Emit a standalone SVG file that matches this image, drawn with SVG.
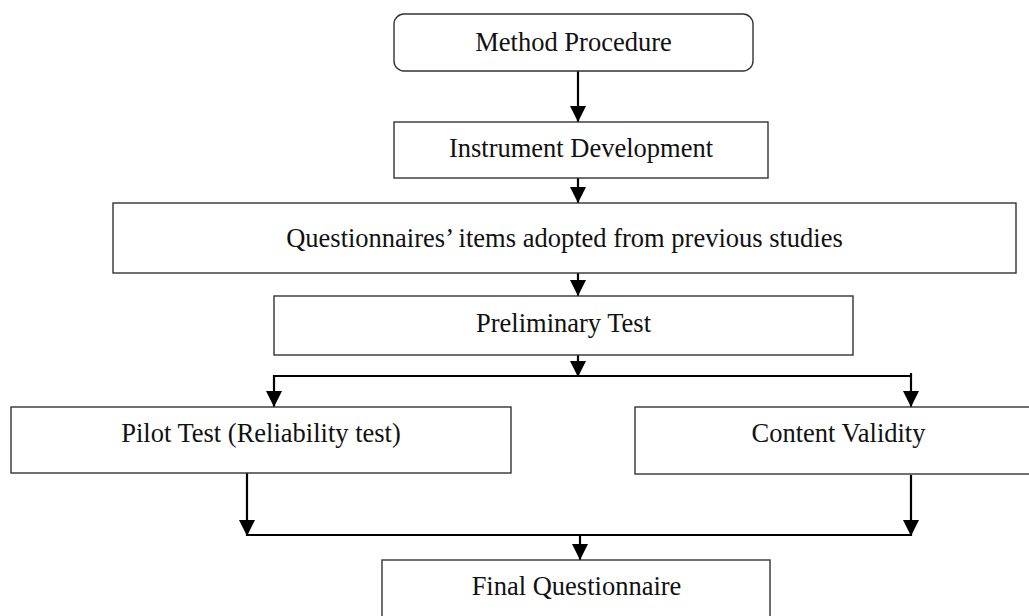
<svg xmlns="http://www.w3.org/2000/svg" width="1029" height="616" viewBox="0 0 1029 616">
<style>
.box{fill:#fff;stroke:#333;stroke-width:1.4}
.lbl{font-family:"Liberation Serif","Times New Roman",serif;font-size:26.5px;fill:#111;text-anchor:middle}
.ln{fill:none;stroke:#000;stroke-width:2.2}
</style>
<defs>
<marker id="ah" viewBox="0 0 16 16" markerWidth="16" markerHeight="16" refX="16" refY="8" orient="auto" markerUnits="userSpaceOnUse">
<path d="M0,0 L16,8 L0,16 Z" fill="#000"/>
</marker>
</defs>
<rect width="1029" height="616" fill="#fff"/>
<g id="connectors">
<line class="ln" x1="578" y1="71" x2="578" y2="122" marker-end="url(#ah)"/>
<line class="ln" x1="578" y1="178" x2="578" y2="203" marker-end="url(#ah)"/>
<line class="ln" x1="578" y1="273" x2="578" y2="296" marker-end="url(#ah)"/>
<line class="ln" x1="578" y1="355" x2="578" y2="377" marker-end="url(#ah)"/>
<line class="ln" x1="273" y1="376" x2="912" y2="376"/>
<line class="ln" x1="274" y1="375" x2="274" y2="407" marker-end="url(#ah)"/>
<line class="ln" x1="911" y1="373" x2="911" y2="407" marker-end="url(#ah)"/>
<line class="ln" x1="247" y1="473" x2="247" y2="536" marker-end="url(#ah)"/>
<line class="ln" x1="911" y1="475" x2="911" y2="536" marker-end="url(#ah)"/>
<line class="ln" x1="246" y1="535" x2="912" y2="535"/>
<line class="ln" x1="580" y1="535" x2="580" y2="560" marker-end="url(#ah)"/>
</g>
<g id="method-procedure">
<rect class="box" x="394" y="14" width="359" height="57" rx="10" ry="10"/>
<text class="lbl" x="573.5" y="51">Method Procedure</text>
</g>
<g id="instrument-development">
<rect class="box" x="394" y="122" width="374" height="56"/>
<text class="lbl" x="581" y="157">Instrument Development</text>
</g>
<g id="questionnaire-items">
<rect class="box" x="113" y="203" width="903" height="70"/>
<text class="lbl" x="564.5" y="247">Questionnaires’ items adopted from previous studies</text>
</g>
<g id="preliminary-test">
<rect class="box" x="274" y="296" width="579" height="59"/>
<text class="lbl" x="563.5" y="332">Preliminary Test</text>
</g>
<g id="pilot-test">
<rect class="box" x="11" y="407" width="500" height="66"/>
<text class="lbl" x="261" y="442">Pilot Test (Reliability test)</text>
</g>
<g id="content-validity">
<rect class="box" x="635" y="407" width="410" height="67"/>
<text class="lbl" x="838.5" y="442">Content Validity</text>
</g>
<g id="final-questionnaire">
<rect class="box" x="382" y="560" width="388" height="70"/>
<text class="lbl" x="576.5" y="595">Final Questionnaire</text>
</g>
</svg>
